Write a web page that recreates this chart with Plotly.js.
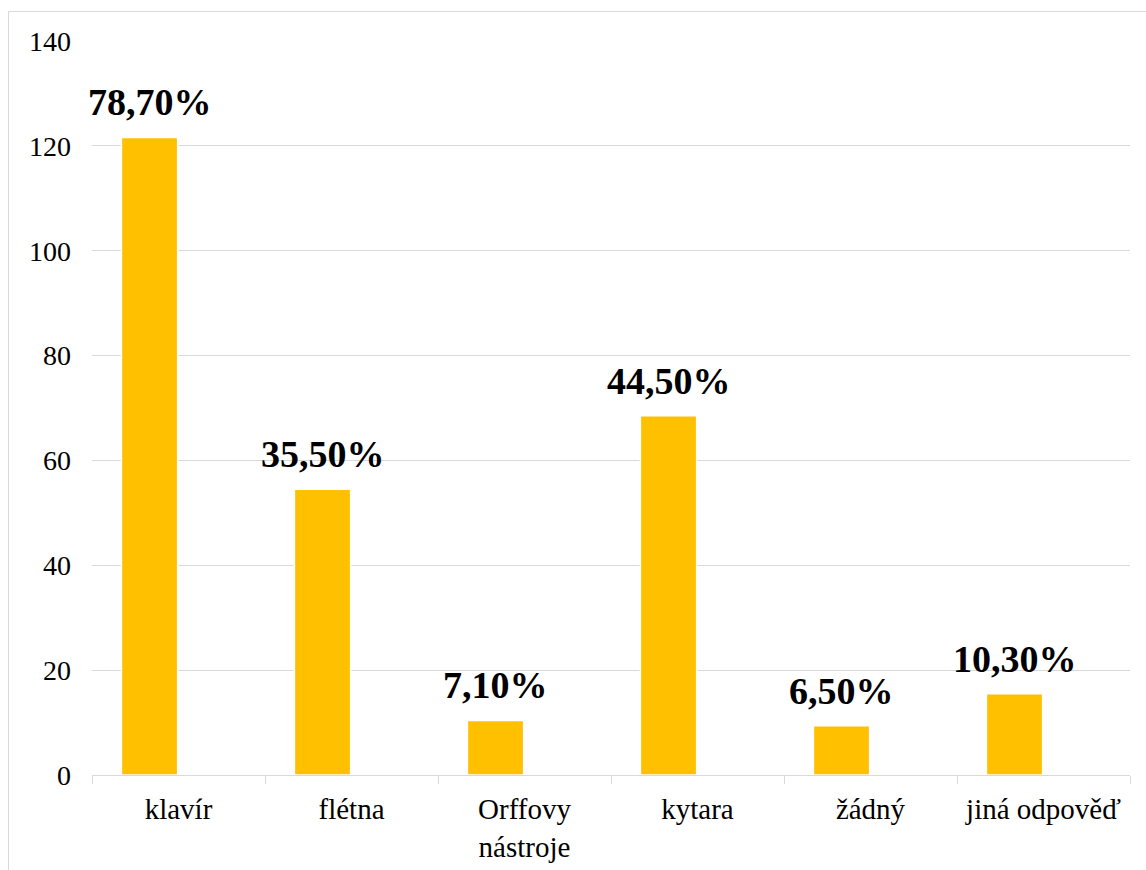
<!DOCTYPE html>
<html>
<head>
<meta charset="utf-8">
<script src="https://cdn.plot.ly/plotly-3.0.1.min.js"></script>
<style>
  html, body { margin: 0; padding: 0; background: #fff; overflow: hidden; width: 1146px; height: 870px; }
  #frame { position: absolute; left: 8px; top: 11px; width: 1138px; height: 859px; box-sizing: border-box;
           border-left: 1px solid #d9d9d9; border-top: 1px solid #d9d9d9; }
  #chart { position: absolute; left: 0; top: 0; width: 1146px; height: 870px; }
</style>
</head>
<body>
<div id="frame"></div>
<div id="chart"></div>
<script>
const categories = ['klavír', 'flétna', 'Orffovy<br>nástroje', 'kytara', 'žádný', 'jiná odpověď'];
const values = [121.6, 54.5, 10.4, 68.5, 9.4, 15.5];
const pctLabels = ['78,70%', '35,50%', '7,10%', '44,50%', '6,50%', '10,30%'];
const yTicks = [0, 20, 40, 60, 80, 100, 120, 140];

const serif = '"Liberation Serif", "Times New Roman", Times, serif';

const trace = {
  type: 'bar',
  x: categories,
  y: values,
  marker: { color: '#FFC000', line: { color: '#ffffff', width: 1.5 } },
  width: 0.325,
  offset: -0.33,
  hoverinfo: 'skip'
};

const annotations = categories.map((c, i) => ({
  x: c,
  y: values[i],
  xref: 'x',
  yref: 'y',
  text: pctLabels[i],
  showarrow: false,
  yanchor: 'bottom',
  xanchor: 'center',
  xshift: -29,
  yshift: 12,
  font: { family: serif, size: 38, color: '#000', weight: 'bold' }
}));

const layout = {
  width: 1146,
  height: 870,
  margin: { l: 92, r: 16, t: 41, b: 95, autoexpand: false },
  paper_bgcolor: 'rgba(0,0,0,0)',
  plot_bgcolor: 'rgba(0,0,0,0)',
  showlegend: false,
  bargap: 0,
  xaxis: {
    type: 'category',
    range: [-0.5, categories.length - 0.5],
    automargin: false,
    showgrid: false,
    showline: true,
    linecolor: '#d9d9d9',
    linewidth: 1,
    ticks: 'outside',
    tickson: 'boundaries',
    ticklen: 8,
    tickcolor: '#d9d9d9',
    tickwidth: 1,
    tickfont: { family: serif, size: 29, color: '#000' },
    ticklabelstandoff: 8,
    zeroline: false,
    fixedrange: true
  },
  yaxis: {
    range: [0, 140],
    automargin: false,
    tickvals: yTicks,
    ticktext: yTicks.map(String),
    showgrid: true,
    gridcolor: '#d9d9d9',
    gridwidth: 1,
    showline: false,
    zeroline: false,
    ticks: '',
    tickfont: { family: serif, size: 28, color: '#000' },
    ticklabelstandoff: 20,
    fixedrange: true
  },
  annotations: annotations
};

Plotly.newPlot('chart', [trace], layout, { staticPlot: true, displayModeBar: false });
</script>
</body>
</html>
